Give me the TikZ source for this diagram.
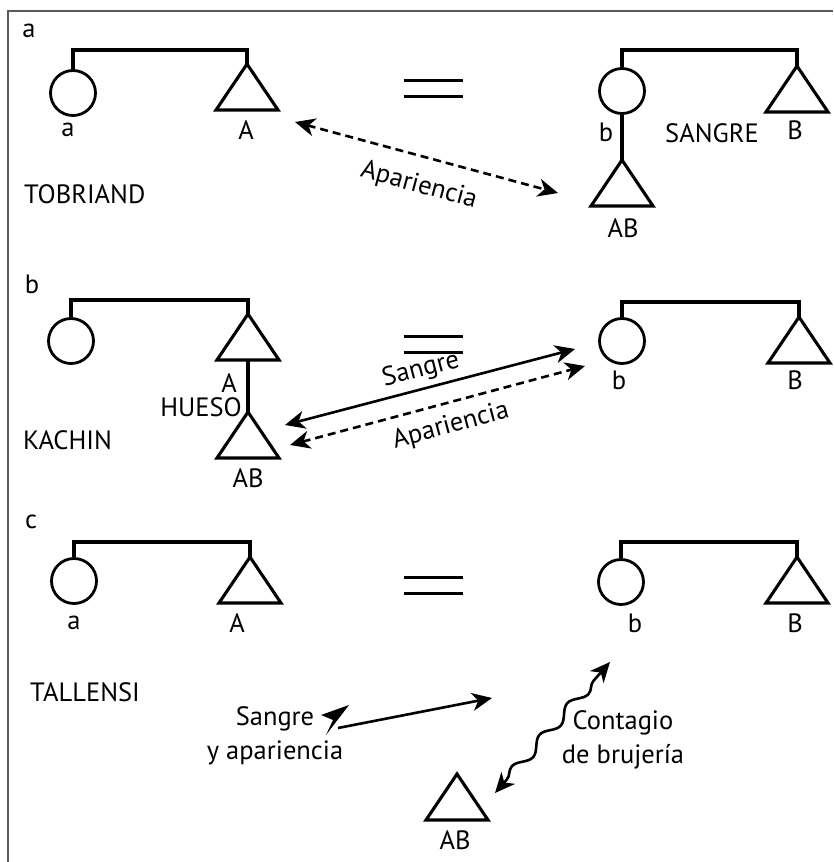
\documentclass[tikz,border=0pt]{standalone}
\usepackage{fontspec}
\setmainfont{PT Sans}
\usetikzlibrary{arrows.meta,decorations.pathmorphing}
\tikzset{
  ln/.style={line width=3.1pt, line join=miter},
  fem/.style={circle, draw, line width=2.8pt, minimum size=45pt, inner sep=0pt},
  lbl/.style={font=\fontsize{26.5}{34}\selectfont, inner sep=0pt},
  tiphead/.style={-{Stealth[length=20pt,width=18pt,inset=6pt]}},
  bothheads/.style={{Stealth[length=20pt,width=18pt,inset=6pt]}-{Stealth[length=20pt,width=18pt,inset=6pt]}},
  arr/.style={line width=2.6pt},
  dsh/.style={dash pattern=on 8pt off 5pt},
  eqline/.style={line width=3pt},
  frameline/.style={draw=black!65, line width=1.5pt},
  tri/.pic={\draw[line width=3.1pt, line join=miter] (0,0) -- (-31,46) -- (31,46) -- cycle;
            \coordinate (-apex) at (0,0); \coordinate (-base) at (0,46);},
}
\begin{document}
\begin{tikzpicture}[x=1pt,y=-1pt]
\useasboundingbox (0,0) rectangle (833,862);
\draw[frameline] (833,11) -- (8,11) -- (8,862);

% ---------- panel a ----------
\node[lbl] (pa) at (29,31) {a};
\node[fem] (ca1) at (73,93) {};
\pic (A1) at (247,64) {tri};
\draw[ln] (ca1.north) -- (ca1.north |- 0,50) -- (A1-apex |- 0,50) -- (A1-apex);
\node[lbl] (la1) at (68,130) {a};
\node[lbl] (lA1) at (246,130) {A};
\node[lbl, anchor=west] (tob) at (24,194) {TOBRIAND};
\draw[eqline] (404,80) -- (463,80);
\draw[eqline] (404,96) -- (463,96);
\node[fem] (cb1) at (622,91) {};
\pic (B1) at (797,66) {tri};
\draw[ln] (cb1.north) -- (cb1.north |- 0,50) -- (B1-apex |- 0,50) -- (B1-apex);
\pic (AB1) at (622,160) {tri};
\draw[ln] (cb1.south) -- (AB1-apex);
\node[lbl] (lb1) at (606,132) {b};
\node[lbl] (sangre1) at (712,133) {SANGRE};
\node[lbl] (lB1) at (795,130) {B};
\node[lbl] (lAB1) at (623,228) {AB};
\coordinate (a1s) at (295,122);
\coordinate (a1e) at (558,193);
\draw[arr, dsh, bothheads] (a1s) -- node[lbl, sloped, below=16pt, pos=0.5] (ap1) {Apariencia} (a1e);

% ---------- panel b ----------
\node[lbl] (pb) at (32,284) {b};
\node[fem] (ca2) at (71,341) {};
\pic (A2) at (248,314) {tri};
\draw[ln] (ca2.north) -- (ca2.north |- 0,300) -- (A2-apex |- 0,300) -- (A2-apex);
\pic (AB2) at (248,412) {tri};
\draw[ln] (A2-base) -- (AB2-apex);
\node[lbl] (lA2) at (229,383) {A};
\node[lbl] (hueso) at (201,407) {HUESO};
\node[lbl, anchor=west] (kachin) at (23,440) {KACHIN};
\node[lbl] (lAB2) at (248,478) {AB};
\draw[eqline] (404,336) -- (463,336);
\draw[eqline] (404,352) -- (463,352);
\node[fem] (cb2) at (622,341) {};
\pic (B2) at (799,317) {tri};
\draw[ln] (cb2.north) -- (cb2.north |- 0,302) -- (B2-apex |- 0,302) -- (B2-apex);
\node[lbl] (lb2) at (619,380) {b};
\node[lbl] (lB2) at (795,380) {B};
\coordinate (s2s) at (285,425);
\coordinate (s2e) at (575,349);
\draw[arr, bothheads] (s2s) -- node[lbl, sloped, above=5pt, pos=0.485] (sg2) {Sangre} (s2e);
\coordinate (d2s) at (290,445);
\coordinate (d2e) at (585,366);
\draw[arr, dsh, bothheads] (d2s) -- node[lbl, sloped, below=10pt, pos=0.525] (ap2) {Apariencia} (d2e);

% ---------- panel c ----------
\node[lbl] (pc) at (31,522) {c};
\node[fem] (ca3) at (74,581) {};
\pic (A3) at (250,557) {tri};
\draw[ln] (ca3.north) -- (ca3.north |- 0,542) -- (A3-apex |- 0,542) -- (A3-apex);
\node[lbl] (la3) at (74,623) {a};
\node[lbl] (lA3) at (237,623) {A};
\node[lbl, anchor=west] (tall) at (30,692) {TALLENSI};
\draw[eqline] (404,577) -- (463,577);
\draw[eqline] (404,593) -- (463,593);
\node[fem] (cb3) at (621,582) {};
\pic (B3) at (797,557) {tri};
\draw[ln] (cb3.north) -- (cb3.north |- 0,542) -- (B3-apex |- 0,542) -- (B3-apex);
\node[lbl] (lb3) at (635,623) {b};
\node[lbl] (lB3) at (795,623) {B};
\node[lbl, align=center] (sya) at (275,736) {Sangre\\y apariencia};
\coordinate (s3s) at (338,728);
\coordinate (s3e) at (492,698);
\draw[arr, tiphead] (s3s) -- (s3e);
\fill (349,705) -- (321,715) -- (333,720) -- (326,735) -- cycle;
\coordinate (w3s) at (495,793);
\coordinate (w3e) at (610,662);
\draw[arr, bothheads, decorate, decoration={snake, amplitude=5pt, segment length=42pt, pre length=18pt, post length=18pt}] (w3s) -- (w3e);
\node[lbl, align=center] (cdb) at (623,740) {Contagio\\de brujería};
\pic (AB3) at (457,774) {tri};
\node[lbl] (lAB3) at (455,840) {AB};
\end{tikzpicture}
\end{document}
